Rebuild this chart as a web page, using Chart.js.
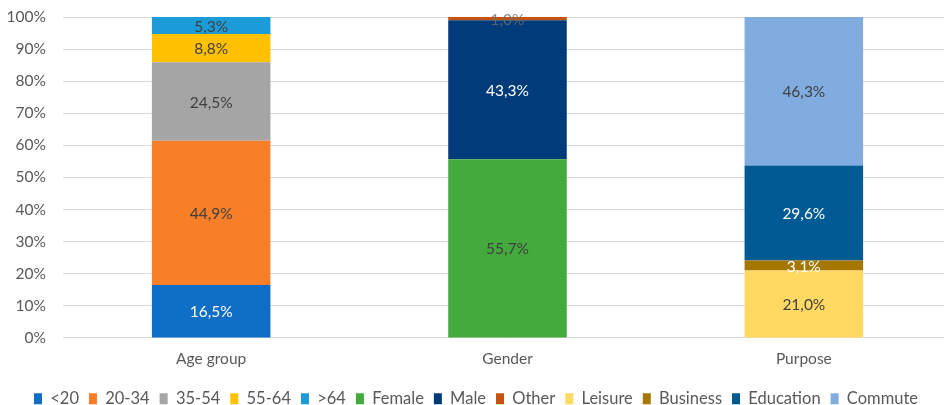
<!DOCTYPE html>
<html>
<head>
<meta charset="utf-8">
<script src="https://cdn.jsdelivr.net/npm/chart.js@4"></script>
<style>
  html, body { margin: 0; padding: 0; background: #fff; overflow: hidden; }
  #wrap { width: 952px; height: 405px; }
</style>
</head>
<body>
<div id="wrap"><canvas id="chart"></canvas></div>
<script>
// data
const categories = ['Age group', 'Gender', 'Purpose'];

const ageLabels = ['<20', '20-34', '35-54', '55-64', '>64'];
const ageValues = [16.5, 44.9, 24.5, 8.8, 5.3];

const genderLabels = ['Female', 'Male', 'Other'];
const genderValues = [55.7, 43.3, 1.0];

const purposeLabels = ['Leisure', 'Business', 'Education', 'Commute'];
const purposeValues = [21.0, 3.1, 29.6, 46.3];

// styles
const ageColors = ['#0F6FC6', '#F87E27', '#A5A5A5', '#FFC000', '#1B9BD7'];
const genderColors = ['#45AA3D', '#013B7A', '#C4530F'];
const purposeColors = ['#FFD961', '#A67700', '#005A94', '#80ACDF'];

const DARK = '#404040';
const WHITE = '#ffffff';
const ageText = [WHITE, DARK, DARK, DARK, DARK];
const genderText = [DARK, WHITE, 'rgba(110,110,110,0.8)'];
const purposeText = [DARK, WHITE, WHITE, DARK];

const FONT = 'Lato, "Open Sans", sans-serif';

function makeSets(labels, values, colors, textColors, catIndex) {
    return labels.map((lab, i) => {
        const data = categories.map(() => null);
        data[catIndex] = values[i];
        return {
            label: lab,
            data: data,
            backgroundColor: colors[i],
            borderWidth: 0,
            textColor: textColors[i],
        };
    });
}

const datasets = [
    ...makeSets(ageLabels, ageValues, ageColors, ageText, 0),
    ...makeSets(genderLabels, genderValues, genderColors, genderText, 1),
    ...makeSets(purposeLabels, purposeValues, purposeColors, purposeText, 2),
];

// draw value labels in the middle of each segment
const valueLabels = {
    id: 'valueLabels',
    afterDatasetsDraw(chart) {
        const ctx = chart.ctx;
        ctx.save();
        ctx.font = '15.5px ' + FONT;
        ctx.textAlign = 'center';
        ctx.textBaseline = 'middle';
        chart.data.datasets.forEach((ds, di) => {
            const meta = chart.getDatasetMeta(di);
            meta.data.forEach((bar, i) => {
                const v = ds.data[i];
                if (v == null) return;
                const p = bar.getProps(['x', 'y', 'base'], true);
                ctx.fillStyle = ds.textColor;
                ctx.fillText(v.toFixed(1).replace('.', ',') + '%', p.x, (p.y + p.base) / 2 + 1);
            });
        });
        ctx.restore();
    }
};

const chart = new Chart(document.getElementById('chart'), {
    type: 'bar',
    data: { labels: categories, datasets: datasets },
    plugins: [valueLabels],
    options: {
        responsive: true,
        maintainAspectRatio: false,
        animation: false,
        layout: { padding: { top: 17, left: 0, right: 0, bottom: -12 } },
        datasets: {
            bar: { categoryPercentage: 1, barPercentage: 0.4 }
        },
        plugins: {
            tooltip: { enabled: false },
            legend: {
                position: 'bottom',
                labels: {
                    boxWidth: 8,
                    boxHeight: 11,
                    padding: 10,
                    color: '#595959',
                    font: { family: FONT, size: 16.5 },
                }
            }
        },
        scales: {
            x: {
                stacked: true,
                grid: { display: false, drawTicks: false },
                border: { display: false },
                ticks: { color: '#595959', font: { family: FONT, size: 15.5 }, padding: 12 },
            },
            y: {
                stacked: true,
                min: 0,
                max: 100,
                afterFit(scale) {
                    scale.width = 63;
                    scale.paddingTop = 0;
                    scale.paddingBottom = 0;
                },
                grid: { color: '#D9D9D9', lineWidth: 1, drawTicks: false },
                border: { display: false },
                ticks: {
                    stepSize: 10,
                    padding: 17,
                    color: '#595959',
                    font: { family: FONT, size: 15.5 },
                    callback: (v) => v + '%',
                },
            }
        }
    }
});
</script>
</body>
</html>
